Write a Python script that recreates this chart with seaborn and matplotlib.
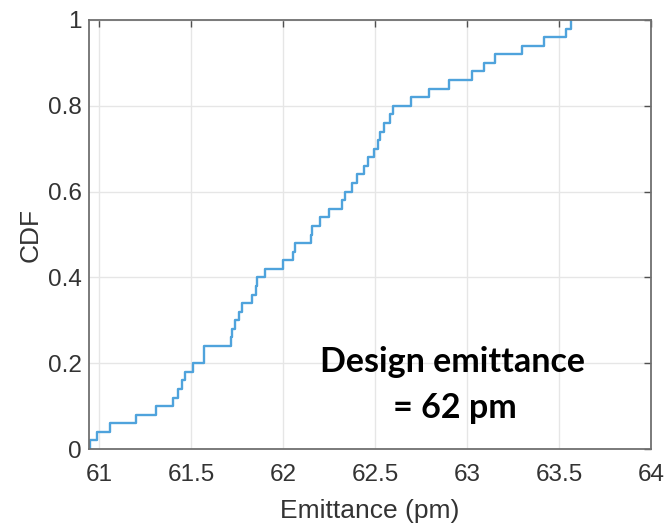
import matplotlib
matplotlib.use("Agg")
import matplotlib.pyplot as plt
import seaborn as sns
import numpy as np
import pandas as pd

# Emittance samples (pm), one per simulated lattice error seed
emittance = [
    60.95, 60.99, 61.06, 61.20, 61.31, 61.40, 61.43, 61.45, 61.465, 61.51,
    61.57, 61.572, 61.72, 61.725, 61.74, 61.76, 61.78, 61.83, 61.855, 61.86,
    61.905, 62.00, 62.055, 62.065, 62.155, 62.16, 62.20, 62.25, 62.32, 62.335,
    62.375, 62.40, 62.44, 62.46, 62.495, 62.515, 62.53, 62.55, 62.58, 62.60,
    62.695, 62.795, 62.90, 63.03, 63.09, 63.15, 63.30, 63.42, 63.54, 63.565,
]

x_ticks = [61, 61.5, 62, 62.5, 63, 63.5, 64]
x_tick_labels = ["61", "61.5", "62", "62.5", "63", "63.5", "64"]
y_ticks = [0, 0.2, 0.4, 0.6, 0.8, 1.0]
y_tick_labels = ["0", "0.2", "0.4", "0.6", "0.8", "1"]

annotation_lines = ["Design emittance", "= 62 pm"]

sns.set_style("white")
plt.rcParams["font.family"] = ["Liberation Sans", "DejaVu Sans"]

df = pd.DataFrame({"emittance": emittance})

fig = plt.figure(figsize=(6.67, 5.28), dpi=100)
ax = fig.add_axes([89 / 667, 1 - 449 / 528, (651 - 89) / 667, (449 - 20) / 528])

sns.ecdfplot(data=df, x="emittance", ax=ax, color="#4fa3dc", linewidth=1.7)

ax.set_xlim(60.946, 64)
ax.set_ylim(0, 1)
ax.set_xticks(x_ticks)
ax.set_xticklabels(x_tick_labels)
ax.set_yticks(y_ticks)
ax.set_yticklabels(y_tick_labels)

ax.grid(True, color="#e6e6e6", linewidth=1.0)
ax.set_axisbelow(True)

for side in ["left", "right", "top", "bottom"]:
    ax.spines[side].set_visible(True)
    ax.spines[side].set_color("#707070")
    ax.spines[side].set_linewidth(1.3)

ax.tick_params(axis="both", which="major", direction="in", length=5,
               width=1.0, color="#505050", labelsize=17.5, labelcolor="#333333",
               top=True, right=True)
ax.tick_params(axis="x", pad=11)
ax.tick_params(axis="y", pad=5)

ax.set_xlabel("Emittance (pm)", fontsize=19, color="#333333", labelpad=9)
ax.set_ylabel("CDF", fontsize=19, color="#333333", labelpad=4)

ax.text(62.924, 0.203, annotation_lines[0], ha="center", va="center",
        fontsize=24.5, fontweight="bold", family="Lato", color="black")
ax.text(62.935, 0.096, annotation_lines[1], ha="center", va="center",
        fontsize=24.5, fontweight="bold", family="Lato", color="black")

fig.savefig("out.png", dpi=100)
